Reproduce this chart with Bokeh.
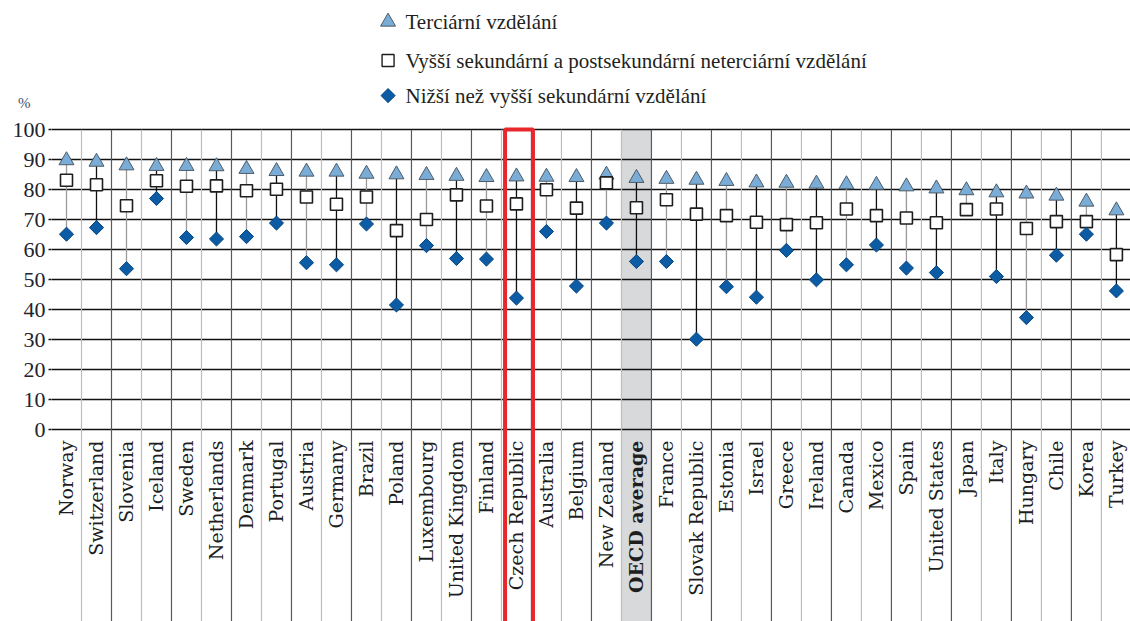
import numpy as np
from bokeh.plotting import figure
from bokeh.models import ColumnDataSource, Range1d, FixedTicker, LinearAxis
from bokeh.core.properties import value
from bokeh.embed import file_html
from bokeh.resources import INLINE

# ---------------- data ----------------
countries = ["Norway", "Switzerland", "Slovenia", "Iceland", "Sweden", "Netherlands",
             "Denmark", "Portugal", "Austria", "Germany", "Brazil", "Poland",
             "Luxembourg", "United Kingdom", "Finland", "Czech Republic", "Australia",
             "Belgium", "New Zealand", "OECD average", "France", "Slovak Republic",
             "Estonia", "Israel", "Greece", "Ireland", "Canada", "Mexico", "Spain",
             "United States", "Japan", "Italy", "Hungary", "Chile", "Korea", "Turkey"]

tertiary = [89.8, 89.3, 88.1, 87.9, 87.9, 87.8, 86.9, 86.2, 86.0, 86.0, 85.3, 85.1,
            84.9, 84.6, 84.2, 84.4, 84.3, 84.2, 85.0, 83.9, 83.6, 83.3, 82.9, 82.4,
            82.3, 82.0, 81.8, 81.6, 81.1, 80.4, 79.8, 79.1, 78.7, 78.0, 76.0, 73.1]

upper_secondary = [83.2, 81.7, 74.7, 83.0, 81.2, 81.3, 79.7, 80.2, 77.6, 75.2, 77.6, 66.4,
                   70.1, 78.3, 74.6, 75.3, 80.0, 73.9, 82.3, 74.0, 76.7, 71.9, 71.4, 69.2,
                   68.4, 69.0, 73.6, 71.4, 70.6, 69.0, 73.4, 73.6, 67.1, 69.4, 69.4, 58.4]

below_upper_secondary = [65.2, 67.4, 53.7, 77.1, 64.1, 63.6, 64.4, 68.9, 55.7, 55.0, 68.6, 41.6,
                         61.4, 57.1, 56.9, 43.9, 66.1, 47.9, 68.9, 56.1, 56.1, 30.2, 47.7, 44.2,
                         59.8, 50.0, 55.0, 61.6, 53.9, 52.4, float("nan"), 51.1, 37.4, 58.2, 65.2, 46.3]

legend_labels = ["Terciární vzdělání",
                 "Vyšší sekundární a postsekundární neterciární vzdělání",
                 "Nižší než vyšší sekundární vzdělání"]

y_ticks = list(range(0, 101, 10))
unit_label = "%"
highlight_country = "Czech Republic"
average_label = "OECD average"

# ---------------- derived ----------------
n = len(countries)
xc = np.arange(n) + 0.5
tert = np.array(tertiary, dtype=float)
ups = np.array(upper_secondary, dtype=float)
low = np.array(below_upper_secondary, dtype=float)
bottom = np.nanmin(np.vstack([tert, ups, low]), axis=0)

SERIF = "Liberation Serif"
LABEL_FONT = "DejaVu Serif"
Y0, Y1 = -63.9, 143.1
UNIT_POS = 109  # vertical position of the "%" unit label (axis units)

p = figure(width=1130, height=621, output_backend="svg", toolbar_location=None,
           x_range=Range1d(0, 35.97), y_range=Range1d(Y0, Y1),
           x_axis_location=None, y_axis_location="left",
           min_border_left=51, min_border_right=0, min_border_top=0, min_border_bottom=0,
           background_fill_color="white", border_fill_color="white", outline_line_color=None)

# grid / axis
p.xgrid.visible = False
p.ygrid.ticker = FixedTicker(ticks=y_ticks)
p.ygrid.grid_line_color = "#111111"
p.ygrid.grid_line_width = 1.5
ax = p.yaxis[0]
ax.ticker = FixedTicker(ticks=y_ticks)
ax.axis_line_color = None
ax.major_tick_line_color = "#111111"
ax.major_tick_line_width = 1.5
ax.major_tick_out = 3
ax.major_tick_in = 0
ax.minor_tick_line_color = None
ax.major_label_standoff = 3
ax.major_label_text_font = SERIF
ax.major_label_text_font_size = "22px"
ax.major_label_text_color = "#23232f"

# unit label ("%") as the single tick label of a helper axis
p.extra_y_ranges = {"unit": Range1d(Y0, Y1)}
ax2 = LinearAxis(y_range_name="unit", ticker=FixedTicker(ticks=[UNIT_POS]),
                 major_label_overrides={UNIT_POS: unit_label},
                 axis_line_color=None, major_tick_line_color=None, minor_tick_line_color=None,
                 major_tick_out=0, major_tick_in=0, minor_tick_out=0, minor_tick_in=0,
                 major_label_standoff=-21, major_label_text_font=SERIF,
                 major_label_text_font_size="15px", major_label_text_color="#44506a")
p.add_layout(ax2, "left")

# OECD average band
ia = countries.index(average_label)
band = p.quad(left=[ia], right=[ia + 1], top=[100], bottom=[-80],
              fill_color="#d8d9db", line_color=None)
band.level = "image"

# vertical separators (alternating light / dark)
bx = np.arange(1, n)
sep_col = ["#bdbdbd" if k % 2 == 1 else "#5a5a5a" for k in bx]
p.segment(x0=bx, x1=bx, y0=[100] * len(bx), y1=[-80] * len(bx),
          line_color=sep_col, line_width=1.2)

# connectors
con_col = ["#9a9a9a" if i % 2 == 0 else "#111111" for i in range(n)]
p.segment(x0=xc, x1=xc, y0=tert, y1=bottom, line_color=con_col, line_width=1.3)

# markers
p.scatter(xc, tert, marker="triangle", size=15, fill_color="#79acd6",
          line_color="#4f5b66", line_width=1)
p.scatter(xc, ups, marker="square", size=12, fill_color="white",
          line_color="#1e1e1e", line_width=1.6)
p.scatter(xc, low, marker="square", angle=np.pi / 4, size=10, fill_color="#0b5ca4",
          line_color="#08457d", line_width=1)

# highlight rectangle
ih = countries.index(highlight_country)
p.quad(left=[ih + 0.12], right=[ih + 1.05], top=[100.1], bottom=[-80],
       fill_color=None, line_color="#e8262b", line_width=4)

# category labels
styles = ["bold" if c == average_label else "normal" for c in countries]
lab_src = ColumnDataSource(dict(x=xc, y=[-3.6] * n, t=countries, s=styles))
p.text(x="x", y="y", text="t", source=lab_src, angle=np.pi / 2,
       text_align="right", text_baseline="middle", text_font=value(LABEL_FONT),
       text_font_size="19px", text_font_style="s", text_color="#1e1e1e")

# legend (manual)
lx = 11.22
ly = [136.0, 123.1, 111.4]
p.scatter([lx], [ly[0]], marker="triangle", size=15, fill_color="#79acd6",
          line_color="#4f5b66", line_width=1)
p.scatter([lx], [ly[1]], marker="square", size=12, fill_color="white",
          line_color="#1e1e1e", line_width=1.4)
p.scatter([lx], [ly[2]], marker="square", angle=np.pi / 4, size=10,
          fill_color="#0b5ca4", line_color="#08457d", line_width=1)
p.text(x=[lx + 0.58] * 3, y=ly, text=legend_labels, text_align="left",
       text_baseline="middle", text_font=value(SERIF), text_font_size="21px",
       text_color="#231f20")

open("out.html", "w").write(file_html(p, INLINE))
